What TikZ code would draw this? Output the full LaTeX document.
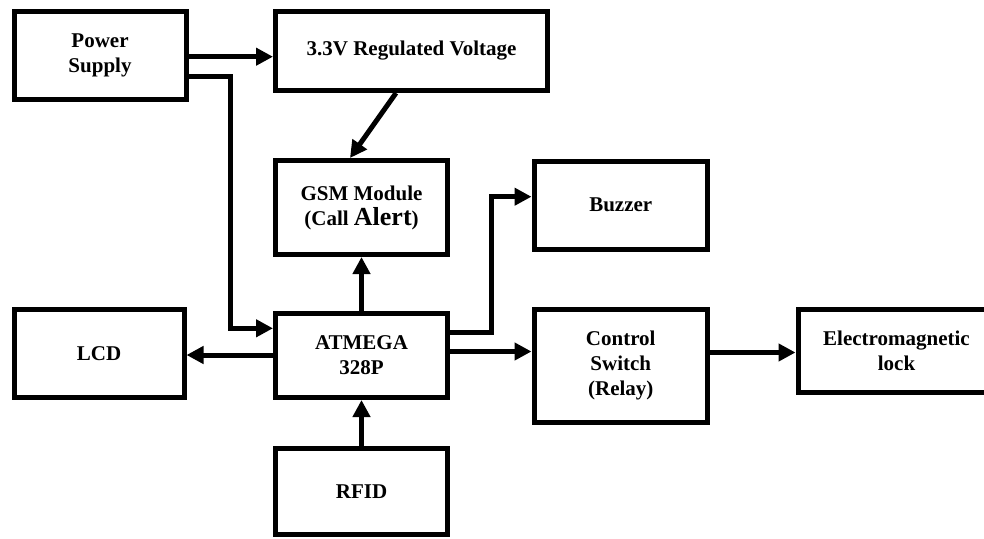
\documentclass[tikz,border=0pt]{standalone}
\usepackage{fontspec}
\setmainfont{Liberation Serif}
\usetikzlibrary{arrows.meta}
\begin{document}
\begin{tikzpicture}[x=1pt,y=-1pt,
  blk/.style={draw=black, line width=5pt, align=center, inner sep=0pt,
    font=\bfseries\fontsize{21}{25}\selectfont},
  arr/.style={line width=5pt, -{Triangle[length=17pt,width=17pt]}},
  conn/.style={line width=5pt}]
\useasboundingbox (0,0) rectangle (984,538);
\clip (0,0) rectangle (984,538);
\fill[white] (0,0) rectangle (984,538);

\node[blk, minimum width=172pt, minimum height=88pt] (power) at (100,55) {Power\\Supply};
\node[blk, minimum width=272pt, minimum height=79pt] (volt) at (411.5,51) {3.3V Regulated Voltage};
\node[blk, minimum width=172pt, minimum height=94pt] (gsm) at (361.5,207.5) {GSM Module\\(Call {\fontsize{26}{25}\selectfont Alert})};
\node[blk, minimum width=173.5pt, minimum height=88pt] (buzzer) at (620.75,205) {Buzzer};
\node[blk, minimum width=170pt, minimum height=88.5pt] (lcd) at (99,353.25) {LCD};
\node[blk, minimum width=172pt, minimum height=84pt] (atmega) at (361.5,355.5) {ATMEGA\\328P};
\node[blk, minimum width=172pt, minimum height=86pt] (rfid) at (361.5,491.5) {RFID};
\node[blk, minimum width=173.5pt, minimum height=113.5pt] (control) at (620.75,365.75) {Control\\Switch\\(Relay)};
\node[blk, minimum width=197pt, minimum height=83.5pt] (elec) at (896.5,350.75) {Electromagnetic\\lock};

\coordinate (pj) at (230,76.7);
\coordinate (bj) at (491,332.5);

\draw[arr] (power.east |- 0,56.7) -- (volt.west |- 0,56.7);
\draw[arr] (power.east |- pj) -- (pj) |- (atmega.west |- 0,328.3);
\draw[arr] (volt.south -| 396,0) -- (gsm.north -| 350,0);
\draw[arr] (atmega.north) -- (gsm.south);
\draw[arr] (rfid.north) -- (atmega.south);
\draw[arr] (atmega.west |- 0,355) -- (lcd.east |- 0,355);
\draw[arr] (atmega.east |- bj) -- (bj) |- (buzzer.west |- 0,196.7);
\draw[arr] (atmega.east |- 0,351.5) -- (control.west |- 0,351.5);
\draw[arr] (control.east |- 0,352.5) -- (elec.west |- 0,352.5);
\end{tikzpicture}
\end{document}
